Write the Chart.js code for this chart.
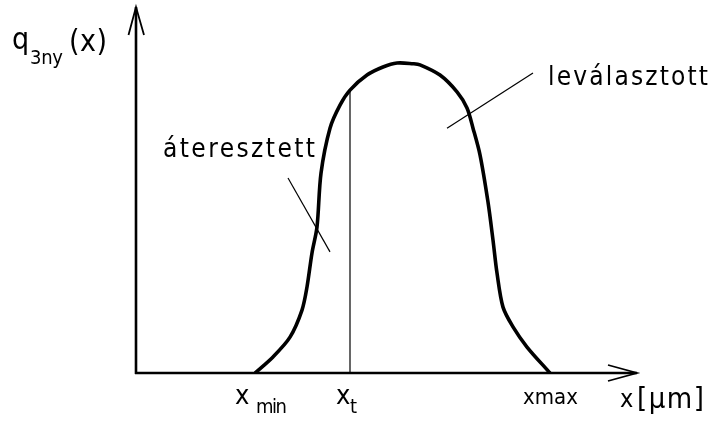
<!DOCTYPE html>
<html><head><meta charset="utf-8">
<script src="https://cdn.jsdelivr.net/npm/chart.js@4/dist/chart.umd.min.js"></script>
<style>html,body{margin:0;padding:0;background:#fff}#wrap{width:713px;height:425px}</style>
</head><body><div id="wrap"><canvas id="c" width="713" height="425"></canvas></div>
<script>
// Distribution curve q3ny(x) (abstract units, x 0..100, y 0..100)
const curveX = [23.8, 27.4, 30.8, 33.2, 34.2, 35.2, 36.2, 37.0, 38.8, 40.8, 42.8, 46.2, 49.4, 52.2, 55.4, 56.8, 60.8, 64.2, 66.2, 67.4, 68.8, 70.4, 71.4, 72.2, 73.4, 75.4, 78.2, 82.8];
const curveY = [0, 4.4, 9.8, 17.2, 23.5, 32.8, 39.9, 54.6, 66.9, 73.2, 77.3, 81.4, 83.6, 84.7, 84.5, 84.2, 81.4, 76.8, 72.4, 66.9, 59.6, 46.7, 36.3, 27.3, 18, 12.6, 7.1, 0];
// cut size x_t
const xT = 42.8;
const xTtop = 77.3;
// leader lines for the labels
const leaderAtX = [30.4, 38.8], leaderAtY = [53.3, 33.1];
const leaderLeX = [62.2, 79.4], leaderLeY = [66.9, 82.0];
// texts
const labelsText = {ylab: 'q', ysub: '3ny', yarg: '(x)', atere: 'áteresztett', leval: 'leválasztott', xmin: 'x', xminSub: 'min', xt: 'x', xtSub: 't', xmax: 'xmax', xunitX: 'x', xunit: '[µm]'};

const pts = (xs, ys) => xs.map((x, i) => ({x, y: ys[i]}));
const FF = '"DejaVu Sans Condensed","DejaVu Sans",sans-serif';

function drawFit(ctx, text, x, base, width, size) {
  ctx.font = size + 'px ' + FF;
  ctx.letterSpacing = '0px';
  const n = [...text].length;
  const w = ctx.measureText(text).width;
  const sp = n > 1 ? (width - w) / (n - 1) : 0;
  ctx.letterSpacing = (n > 1 ? sp : 0) + 'px';
  ctx.fillText(text, x, base);
  ctx.letterSpacing = '0px';
}

const overlay = {
  id: 'overlay',
  afterDatasetsDraw(chart) {
    const ctx = chart.ctx, xs = chart.scales.x, ys = chart.scales.y;
    const x0 = xs.getPixelForValue(0), y0 = ys.getPixelForValue(0);
    const xe = xs.getPixelForValue(100.2), ye = ys.getPixelForValue(100);
    ctx.save();
    ctx.strokeStyle = '#000'; ctx.lineWidth = 2.6; ctx.lineCap = 'butt';
    ctx.beginPath(); ctx.moveTo(x0, y0 + 1); ctx.lineTo(x0, ye); ctx.stroke();
    ctx.beginPath(); ctx.moveTo(x0 - 1, y0); ctx.lineTo(xe, y0); ctx.stroke();
    ctx.lineWidth = 1.8;
    ctx.beginPath(); ctx.moveTo(x0 - 7.5, ye + 28); ctx.lineTo(x0, ye); ctx.lineTo(x0 + 8, ye + 28); ctx.stroke();
    ctx.beginPath(); ctx.moveTo(xe - 29, y0 - 8); ctx.lineTo(xe, y0); ctx.lineTo(xe - 29, y0 + 8); ctx.stroke();
    ctx.fillStyle = '#000'; ctx.textBaseline = 'alphabetic'; ctx.textAlign = 'left';
    drawFit(ctx, labelsText.ylab, 12, 49, 22, 30);
    drawFit(ctx, labelsText.yarg, 69, 51, 38, 30);
    drawFit(ctx, labelsText.ysub, 30, 64, 33, 20);
    drawFit(ctx, labelsText.atere, 163, 157, 152, 26);
    drawFit(ctx, labelsText.leval, 548, 85, 160, 26);
    drawFit(ctx, labelsText.xmin, 235, 404, 17, 27);
    drawFit(ctx, labelsText.xt, 336, 404, 13, 27);
    drawFit(ctx, labelsText.xminSub, 256, 413, 31, 20);
    drawFit(ctx, labelsText.xtSub, 350, 413, 10, 20);
    drawFit(ctx, labelsText.xmax, 523, 404, 55, 22);
    drawFit(ctx, labelsText.xunitX, 620, 407, 15, 25);
    drawFit(ctx, labelsText.xunit, 637, 408, 67, 29);
    ctx.restore();
  }
};

new Chart(document.getElementById('c'), {
  type: 'scatter',
  data: {
    datasets: [
      {data: pts(curveX, curveY), showLine: true, borderColor: '#000', borderWidth: 3.6, pointRadius: 0, tension: 0.3, fill: false},
      {data: [{x: xT, y: 0}, {x: xT, y: xTtop}], showLine: true, borderColor: '#000', borderWidth: 1.2, pointRadius: 0},
      {data: pts(leaderAtX, leaderAtY), showLine: true, borderColor: '#000', borderWidth: 1.2, pointRadius: 0},
      {data: pts(leaderLeX, leaderLeY), showLine: true, borderColor: '#000', borderWidth: 1.2, pointRadius: 0}
    ]
  },
  options: {
    responsive: false, animation: false, devicePixelRatio: 1,
    layout: {padding: {left: 136, right: 77, top: 7, bottom: 52}},
    plugins: {legend: {display: false}, tooltip: {enabled: false}},
    scales: {
      x: {type: 'linear', min: 0, max: 100, display: false},
      y: {type: 'linear', min: 0, max: 100, display: false}
    }
  },
  plugins: [overlay]
});
</script></body></html>
